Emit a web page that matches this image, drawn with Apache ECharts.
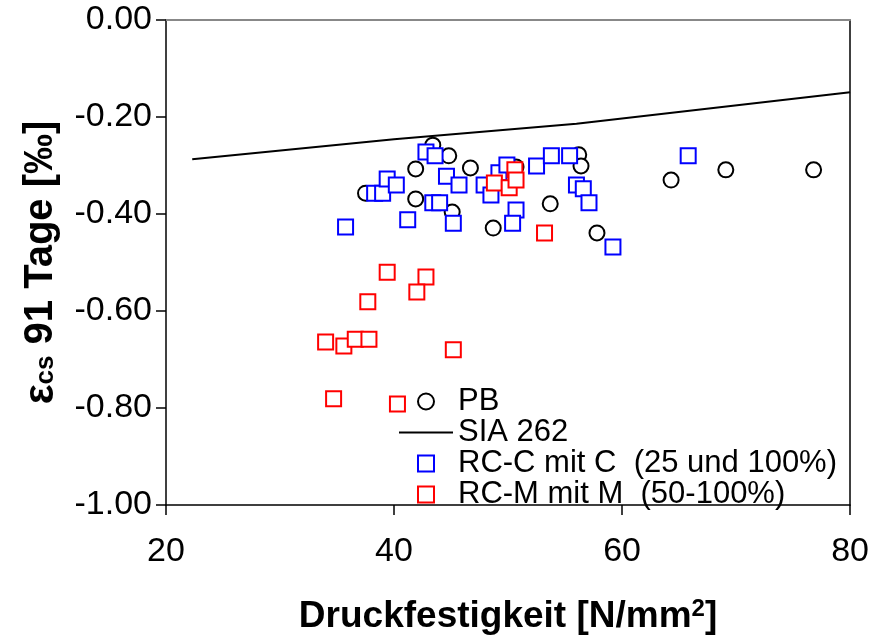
<!DOCTYPE html>
<html>
<head>
<meta charset="utf-8">
<script src="https://cdn.jsdelivr.net/npm/echarts@6/dist/echarts.min.js"></script>
<style>
  html, body { margin: 0; padding: 0; background: #fff; }
  #chart { width: 872px; height: 641px; }
</style>
</head>
<body>
<div id="chart"></div>
<script>
// Messwerte: [Druckfestigkeit, Schwinddehnung]
const pbPoints = [
  [37.5, -0.357], [41.9, -0.307], [41.9, -0.369], [43.4, -0.258], [44.8, -0.280],
  [46.7, -0.305], [45.1, -0.396], [48.7, -0.429], [50.7, -0.303], [53.7, -0.379],
  [56.2, -0.278], [56.4, -0.301], [57.8, -0.439], [64.3, -0.330], [69.1, -0.309],
  [76.8, -0.309]
]
const sia262Line = [[22.3, -0.287], [40, -0.246], [56, -0.214], [80, -0.149]]
const rcCPoints = [
  [35.75, -0.427], [38.3, -0.357], [39.0, -0.357], [39.4, -0.328], [40.2, -0.340],
  [41.2, -0.412], [42.8, -0.272], [43.6, -0.280], [43.4, -0.377], [44.0, -0.377],
  [44.6, -0.322], [45.2, -0.419], [45.7, -0.340], [47.9, -0.340], [48.5, -0.361],
  [49.2, -0.315], [49.9, -0.299], [50.7, -0.392], [50.4, -0.419], [52.5, -0.301],
  [53.8, -0.280], [55.4, -0.280], [56.0, -0.340], [56.6, -0.348], [57.1, -0.377],
  [59.2, -0.468], [65.8, -0.280]
]
const rcMPoints = [
  [34.0, -0.664], [35.6, -0.672], [36.6, -0.658], [37.8, -0.658], [37.7, -0.581],
  [39.4, -0.520], [42.8, -0.530], [42.0, -0.561], [45.2, -0.680], [34.7, -0.781],
  [40.3, -0.792], [53.2, -0.439], [48.8, -0.336], [50.1, -0.346], [50.6, -0.309],
  [50.7, -0.330]
]
const seriesNames = ["PB", "SIA 262", "RC-C mit C  (25 und 100%)", "RC-M mit M  (50-100%)"]

const font = "'Liberation Sans', Arial, sans-serif"
const squareIcon = "path://M0,0H10V10H0Z"
const lineIcon = "path://M0,0H54V2H0Z"
const myChart = echarts.init(document.getElementById("chart"))

// Streudiagramm-Serie mit hohlen Symbolen
const scatter = (name, data, symbol, color) => ({
  name,
  type: "scatter",
  data,
  symbol,
  symbolSize: 15,
  itemStyle: { color: "#fff", borderColor: color, borderWidth: 2, opacity: 1 },
  emphasis: { disabled: true },
})

const option = {
  animation: false,
  backgroundColor: "#fff",
  grid: { left: 166, right: 20, top: 20, bottom: 136 },
  legend: {
    orient: "vertical",
    left: 394,
    top: 381,
    itemWidth: 54,
    itemHeight: 16,
    itemGap: 0,
    symbolKeepAspect: true,
    textStyle: { fontFamily: font, fontSize: 31, color: "#000", lineHeight: 31 },
    data: [
      { name: seriesNames[0], icon: "circle" },
      { name: seriesNames[1], icon: lineIcon, itemStyle: { color: "#000", borderWidth: 0 } },
      { name: seriesNames[2], icon: squareIcon },
      { name: seriesNames[3], icon: squareIcon },
    ],
  },
  xAxis: [
    {
      type: "value",
      min: 20,
      max: 80,
      interval: 20,
      name: "Druckfestigkeit [N/mm{sup|2}]",
      nameLocation: "middle",
      nameGap: 92,
      nameTextStyle: {
        fontFamily: font,
        fontSize: 37,
        fontWeight: "bold",
        color: "#000",
        rich: {
          sup: { fontFamily: font, fontSize: 24, fontWeight: "bold", color: "#000", padding: [0, 0, 16, 0] },
        },
      },
      axisLine: { onZero: false, lineStyle: { color: "#000", width: 1.5 } },
      axisTick: { inside: false, length: 10, lineStyle: { color: "#000", width: 1.5 } },
      axisLabel: { fontFamily: font, fontSize: 34, color: "#000", margin: 30 },
      splitLine: { show: false },
    },
    {
      type: "value",
      position: "top",
      min: 20,
      max: 80,
      axisLine: { show: true, onZero: false, lineStyle: { color: "#888", width: 2 } },
      axisTick: { show: false },
      axisLabel: { show: false },
      splitLine: { show: false },
    },
  ],
  yAxis: [
    {
      type: "value",
      min: -1,
      max: 0,
      interval: 0.2,
      name: "{e|ε}{s|cs} 91 Tage [‰]",
      nameLocation: "middle",
      nameGap: 104,
      nameRotate: 90,
      nameTextStyle: {
        fontFamily: font,
        fontSize: 40,
        fontWeight: "bold",
        color: "#000",
        rich: {
          e: { fontFamily: font, fontSize: 42, fontWeight: "bold", color: "#000" },
          s: { fontFamily: font, fontSize: 26, fontWeight: "bold", color: "#000", padding: [10, 0, 0, 0] },
        },
      },
      axisLine: { show: true, onZero: false, lineStyle: { color: "#000", width: 1.5 } },
      axisTick: { show: true, inside: false, length: 10, lineStyle: { color: "#000", width: 1.5 } },
      axisLabel: {
        fontFamily: font,
        fontSize: 34,
        color: "#000",
        margin: 14,
        formatter: (v) => v.toFixed(2),
      },
      splitLine: { show: false },
    },
    {
      type: "value",
      position: "right",
      min: -1,
      max: 0,
      axisLine: { show: true, onZero: false, lineStyle: { color: "#000", width: 1.5 } },
      axisTick: { show: false },
      axisLabel: { show: false },
      splitLine: { show: false },
    },
  ],
  series: [
    scatter(seriesNames[0], pbPoints, "circle", "#000"),
    {
      name: seriesNames[1],
      type: "line",
      data: sia262Line,
      symbol: "none",
      lineStyle: { color: "#000", width: 2 },
      itemStyle: { color: "#000" },
      emphasis: { disabled: true },
    },
    scatter(seriesNames[2], rcCPoints, "rect", "#0000ff"),
    scatter(seriesNames[3], rcMPoints, "rect", "#ff0000"),
  ],
}

myChart.setOption(option)
</script>
</body>
</html>
